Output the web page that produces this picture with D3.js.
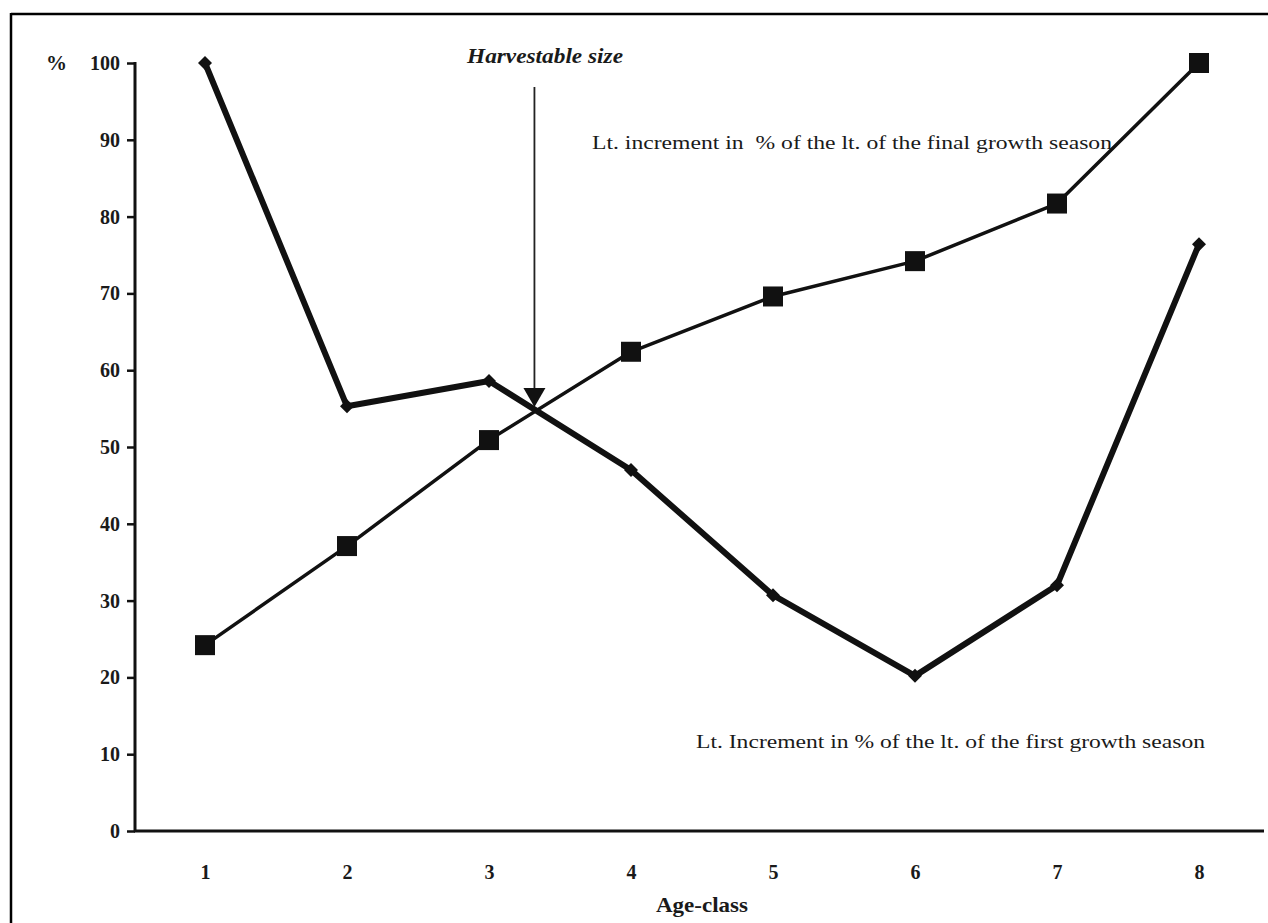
<!DOCTYPE html>
<html><head><meta charset="utf-8">
<script src="https://cdn.jsdelivr.net/npm/d3@7"></script>
<style>body{margin:0;background:#fff}svg{display:block}text{font-family:"Liberation Serif","Times New Roman",serif;fill:#1a1a1a}</style>
</head><body><svg id="c" width="1268" height="923"></svg>
<script>
const ageClasses = [1,2,3,4,5,6,7,8];
const firstSeasonPct = [100, 55.3, 58.6, 47.0, 30.7, 20.2, 32.0, 76.4];
const finalSeasonPct = [24.2, 37.1, 50.9, 62.4, 69.6, 74.2, 81.7, 100];
const yTicks = [0,10,20,30,40,50,60,70,80,90,100];
const harvestX = 3.32;
const harvestLabel = "Harvestable size";
const finalLabel = "Lt. increment in  % of the lt. of the final growth season";
const firstLabel = "Lt. Increment in % of the lt. of the first growth season";

const svg = d3.select("#c");
const x = d3.scaleLinear().domain([1,8]).range([205,1199]);
const y = d3.scaleLinear().domain([0,100]).range([831,63]);
const x0 = 135;

// frame (top and left)
svg.append("line").attr("x1",11).attr("x2",1268).attr("y1",14).attr("y2",14).attr("stroke","#000").attr("stroke-width",2.5);
svg.append("line").attr("x1",11).attr("x2",11).attr("y1",13).attr("y2",923).attr("stroke","#000").attr("stroke-width",2.5);

// y axis
const yAxis = d3.axisLeft(y).tickValues(yTicks).tickSize(8).tickPadding(7).tickFormat(d3.format("d"));
const gy = svg.append("g").attr("transform",`translate(${x0},0)`).call(yAxis);
gy.select(".domain").remove();
gy.selectAll(".tick line").attr("stroke","#111").attr("stroke-width",2.5);
gy.selectAll(".tick text").attr("font-size",20).attr("font-weight","bold").attr("fill","#1a1a1a")
  .attr("font-family",'"Liberation Serif",serif');
svg.append("line").attr("x1",x0).attr("x2",x0).attr("y1",y(100)-1).attr("y2",y(0)+1).attr("stroke","#111").attr("stroke-width",3);
svg.append("text").attr("x",46).attr("y",y(100)+7).attr("font-size",21).attr("font-weight","bold").text("%");

// x axis
const xAxis = d3.axisBottom(x).tickValues(ageClasses).tickSize(0).tickPadding(34).tickFormat(d3.format("d"));
const gx = svg.append("g").attr("transform",`translate(0,${y(0)})`).call(xAxis);
gx.select(".domain").remove();
gx.selectAll(".tick text").attr("font-size",20).attr("font-weight","bold").attr("fill","#1a1a1a")
  .attr("font-family",'"Liberation Serif",serif');
svg.append("line").attr("x1",x0-1).attr("x2",1264).attr("y1",y(0)).attr("y2",y(0)).attr("stroke","#111").attr("stroke-width",3);
svg.append("text").attr("x",(x(4)+x(5))/2).attr("y",912).attr("text-anchor","middle").attr("font-size",21).attr("font-weight","bold")
  .attr("textLength",92).attr("lengthAdjust","spacingAndGlyphs").text("Age-class");

// series lines
const line = d3.line().x((d,i)=>x(ageClasses[i])).y(d=>y(d));
svg.append("path").datum(finalSeasonPct).attr("d",line).attr("fill","none").attr("stroke","#111").attr("stroke-width",3.5).attr("stroke-linejoin","round");
svg.append("path").datum(firstSeasonPct).attr("d",line).attr("fill","none").attr("stroke","#111").attr("stroke-width",6).attr("stroke-linejoin","round");

// markers
svg.selectAll("rect.sq").data(finalSeasonPct).enter().append("rect").attr("class","sq")
  .attr("x",(d,i)=>x(ageClasses[i])-10).attr("y",d=>y(d)-10).attr("width",20).attr("height",20).attr("fill","#111");
svg.selectAll("path.dm").data(firstSeasonPct).enter().append("path").attr("class","dm")
  .attr("transform",(d,i)=>`translate(${x(ageClasses[i])},${y(d)})`)
  .attr("d","M0,-7L7,0L0,7L-7,0Z").attr("fill","#111");

// harvestable size arrow
const ax = x(harvestX);
svg.append("line").attr("x1",ax).attr("x2",ax).attr("y1",87).attr("y2",392).attr("stroke","#222").attr("stroke-width",1.8);
svg.append("path").attr("d",`M${ax-11},388L${ax+11},388L${ax},407Z`).attr("fill","#111");
svg.append("text").attr("x",467).attr("y",63).attr("font-size",21).attr("font-weight","bold").attr("font-style","italic")
  .attr("textLength",156).attr("lengthAdjust","spacingAndGlyphs").text(harvestLabel);

// labels
svg.append("text").attr("x",592).attr("y",149).attr("font-size",19).attr("textLength",520).attr("lengthAdjust","spacingAndGlyphs").attr("xml:space","preserve").style("white-space","pre").text(finalLabel);
svg.append("text").attr("x",696).attr("y",748).attr("font-size",19).attr("textLength",509).attr("lengthAdjust","spacingAndGlyphs").text(firstLabel);
</script></body></html>
